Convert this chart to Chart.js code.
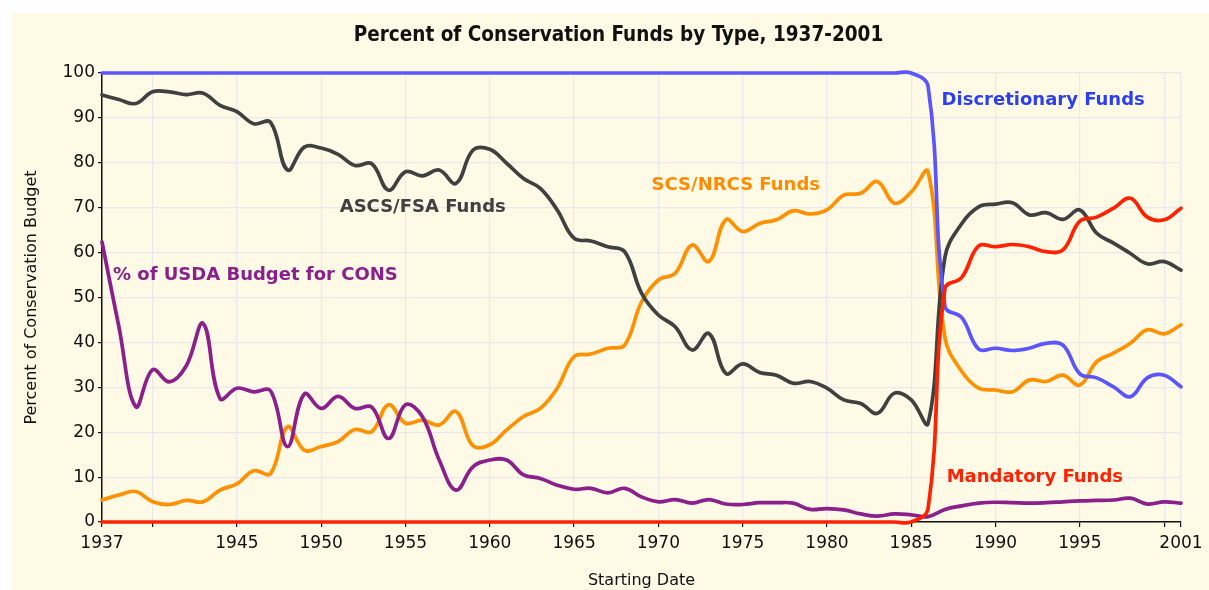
<!DOCTYPE html>
<html>
<head>
<meta charset="utf-8">
<script src="https://cdn.jsdelivr.net/npm/chart.js@4.4.1/dist/chart.umd.min.js"></script>
<style>
  html, body { margin: 0; padding: 0; background: #fff; overflow: hidden; }
  #panel { position: absolute; left: 12px; top: 13px; width: 1197px; height: 577px; background: #fffae6; }
  #chart { position: absolute; left: 12px; top: 13px; }
</style>
</head>
<body>
<div id="panel"></div>
<canvas id="chart" width="1212" height="577"></canvas>
<script>
// yearly values
const years = [1937, 1938, 1939, 1940, 1941, 1942, 1943, 1944, 1945, 1946,
  1947, 1948, 1949, 1950, 1951, 1952, 1953, 1954, 1955, 1956,
  1957, 1958, 1959, 1960, 1961, 1962, 1963, 1964, 1965, 1966,
  1967, 1968, 1969, 1970, 1971, 1972, 1973, 1974, 1975, 1976,
  1977, 1978, 1979, 1980, 1981, 1982, 1983, 1984, 1985, 1986,
  1987, 1988, 1989, 1990, 1991, 1992, 1993, 1994, 1995, 1996,
  1997, 1998, 1999, 2000, 2001];

const discretionary = [100, 100, 100, 100, 100, 100, 100, 100, 100, 100,
  100, 100, 100, 100, 100, 100, 100, 100, 100, 100,
  100, 100, 100, 100, 100, 100, 100, 100, 100, 100,
  100, 100, 100, 100, 100, 100, 100, 100, 100, 100,
  100, 100, 100, 100, 100, 100, 100, 100, 100, 97,
  48, 45.5, 38.5, 38.7, 38.2, 38.7, 39.8, 39.4, 33.0, 32.1,
  30.1, 27.9, 32.1, 32.7, 30.1];

const mandatory = [0, 0, 0, 0, 0, 0, 0, 0, 0, 0,
  0, 0, 0, 0, 0, 0, 0, 0, 0, 0,
  0, 0, 0, 0, 0, 0, 0, 0, 0, 0,
  0, 0, 0, 0, 0, 0, 0, 0, 0, 0,
  0, 0, 0, 0, 0, 0, 0, 0, 0, 3,
  52, 54.5, 61.5, 61.3, 61.8, 61.3, 60.2, 60.6, 67.0, 67.9,
  69.9, 72.1, 67.9, 67.3, 69.9];

const ascsFsa = [95.1, 94.1, 93.2, 95.8, 95.8, 95.2, 95.5, 92.8, 91.4, 88.7,
  89.0, 78.4, 83.5, 83.3, 81.9, 79.4, 79.8, 73.9, 78.0, 77.1,
  78.4, 75.4, 82.8, 83.0, 79.9, 76.5, 74.3, 69.5, 63.2, 62.6,
  61.3, 60.2, 51.0, 46.1, 43.5, 38.3, 42.0, 33.1, 35.2, 33.3,
  32.7, 30.9, 31.3, 29.8, 27.2, 26.4, 24.2, 28.7, 27.2, 22.0,
  59.0, 66.5, 70.2, 70.8, 71.1, 68.4, 68.9, 67.4, 69.5, 64.3,
  62.1, 59.8, 57.5, 58.0, 56.1];

const scsNrcs = [4.9, 6.0, 6.8, 4.5, 3.9, 4.8, 4.5, 7.1, 8.5, 11.4,
  10.8, 21.2, 16.0, 16.8, 17.9, 20.6, 20.1, 26.1, 22.0, 22.7,
  21.6, 24.6, 17.0, 17.2, 20.5, 23.5, 25.3, 29.8, 36.8, 37.4,
  38.7, 39.4, 49.0, 53.9, 55.4, 61.7, 58.0, 67.3, 64.7, 66.5,
  67.3, 69.3, 68.6, 69.5, 72.8, 73.2, 75.8, 71.0, 73.5, 78.0,
  41.0, 33.5, 29.8, 29.4, 29.0, 31.6, 31.3, 32.7, 30.5, 35.7,
  37.6, 39.8, 42.8, 41.9, 43.9];

const usdaShare = [62.4, 43.5, 25.7, 33.9, 31.2, 34.8, 44.2, 27.5, 29.8, 29.0,
  29.2, 16.8, 28.5, 25.3, 28.0, 25.3, 25.6, 18.6, 26.1, 23.5,
  13.8, 7.1, 12.3, 13.8, 13.8, 10.5, 9.7, 8.2, 7.3, 7.5,
  6.5, 7.5, 5.6, 4.5, 5.0, 4.2, 5.0, 4.0, 3.9, 4.3,
  4.3, 4.2, 2.8, 3.0, 2.7, 1.8, 1.3, 1.8, 1.6, 1.2,
  2.8, 3.6, 4.2, 4.4, 4.3, 4.2, 4.3, 4.5, 4.7, 4.8,
  4.9, 5.3, 4.0, 4.5, 4.2];

const xTickValues = [1937, 1940, 1945, 1950, 1955, 1960, 1965, 1970, 1975, 1980, 1985, 1990, 1995, 2000, 2001];
const xTickLabels = ['1937', '', '1945', '1950', '1955', '1960', '1965', '1970', '1975', '1980', '1985', '1990', '1995', '', '2001'];
const yTickValues = [0, 10, 20, 30, 40, 50, 60, 70, 80, 90, 100];

const chartTitle = 'Percent of Conservation Funds by Type, 1937-2001';

const pts = arr => years.map((yr, i) => ({ x: yr, y: arr[i] }));

// in-plot series names, placed in data units
const seriesNames = [
  { text: 'Discretionary Funds', x: 1986.8, y: 94, color: '#2a3ff2' },
  { text: 'ASCS/FSA Funds', x: 1951.1, y: 70.0, color: '#404040' },
  { text: 'SCS/NRCS Funds', x: 1969.6, y: 75.0, color: '#ff8c00' },
  { text: '% of USDA Budget for CONS', x: 1937.65, y: 55.0, color: '#8b1f8b' },
  { text: 'Mandatory Funds', x: 1987.1, y: 10, color: '#ff2200' }
];

const namePlugin = {
  id: 'seriesNames',
  afterDatasetsDraw(chart) {
    const { ctx, scales: { x, y } } = chart;
    ctx.save();
    ctx.font = 'bold 18px "DejaVu Sans"';
    ctx.textBaseline = 'middle';
    ctx.textAlign = 'left';
    seriesNames.forEach(n => {
      ctx.fillStyle = n.color;
      ctx.fillText(n.text, x.getPixelForValue(n.x), y.getPixelForValue(n.y));
    });
    // chart title, centred a little left of the plot centre like the original
    ctx.fillStyle = '#111';
    ctx.textAlign = 'center';
    ctx.font = 'bold 20.5px "DejaVu Sans Condensed", "DejaVu Sans"';
    ctx.fillText(chartTitle, (chart.chartArea.left + chart.chartArea.right) / 2 - 23, 23);
    ctx.restore();
  }
};

const tickFont = { family: '"DejaVu Sans"', size: 17 };
const gridColor = '#e9e8ee';

new Chart(document.getElementById('chart'), {
  type: 'line',
  data: {
    datasets: [
      { label: 'Mandatory Funds', data: pts(mandatory), borderColor: '#ff2200' },
      { label: 'Discretionary Funds', data: pts(discretionary), borderColor: '#5a55ff' },
      { label: '% of USDA Budget for CONS', data: pts(usdaShare), borderColor: '#8b1f8b' },
      { label: 'ASCS/FSA Funds', data: pts(ascsFsa), borderColor: '#404040' },
      { label: 'SCS/NRCS Funds', data: pts(scsNrcs), borderColor: '#ff9000' }
    ].map(d => Object.assign(d, { clip: false, fill: false }))
  },
  options: {
    responsive: false,
    animation: false,
    devicePixelRatio: 1,
    layout: { padding: { left: 0, right: 43, top: 60, bottom: 0 } },
    elements: {
      point: { radius: 0, hoverRadius: 0 },
      line: { borderWidth: 3.7, tension: 0.4, capBezierPoints: false, borderCapStyle: 'round', borderJoinStyle: 'round' }
    },
    plugins: {
      legend: { display: false },
      tooltip: { enabled: false },
      title: { display: false }
    },
    scales: {
      x: {
        type: 'linear',
        min: 1937,
        max: 2001,
        afterBuildTicks: s => { s.ticks = xTickValues.map(v => ({ value: v })); },
        afterFit: s => { s.height = 68; },
        ticks: {
          autoSkip: false, maxRotation: 0, padding: 6, color: '#111', font: tickFont,
          callback: (v, i) => xTickLabels[i]
        },
        grid: { color: gridColor, lineWidth: 1.2, tickLength: 5, tickColor: '#111' },
        border: { color: '#111', width: 1.5 },
        title: {
          display: true, text: 'Starting Date', color: '#111',
          font: { family: '"DejaVu Sans"', size: 16 }, padding: { top: 0, bottom: 0 }
        }
      },
      y: {
        min: 0,
        max: 100,
        afterBuildTicks: s => { s.ticks = yTickValues.map(v => ({ value: v })); },
        afterFit: s => { s.width = 90; },
        ticks: { padding: 3, color: '#111', font: tickFont },
        grid: { color: gridColor, lineWidth: 1.2, tickLength: 4, tickColor: '#111' },
        border: { color: '#111', width: 1.5 },
        title: {
          display: true, text: 'Percent of Conservation Budget', color: '#111',
          font: { family: '"DejaVu Sans"', size: 16 }, padding: { top: 10, bottom: 0 }
        }
      }
    }
  },
  plugins: [namePlugin]
});
</script>
</body>
</html>
